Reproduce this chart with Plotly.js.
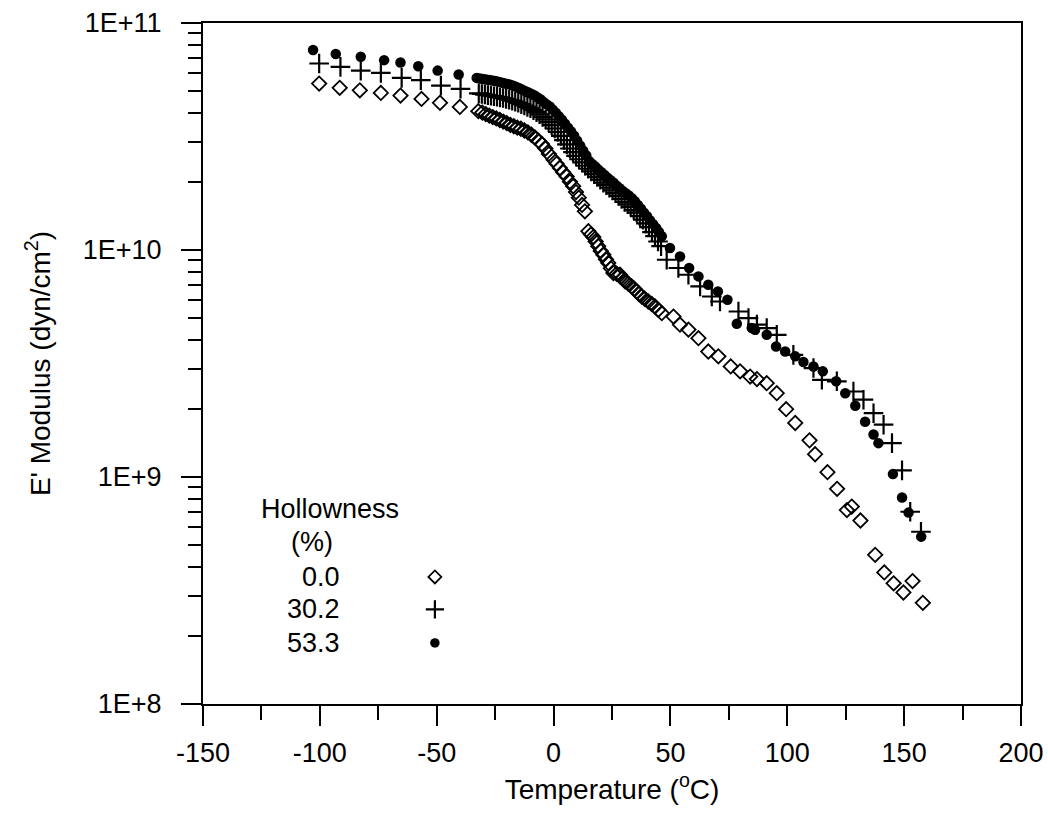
<!DOCTYPE html>
<html>
<head>
<meta charset="utf-8">
<script src="https://cdn.plot.ly/plotly-3.0.1.min.js"></script>
<style>html,body{margin:0;padding:0;background:#fff;}#chart{width:1048px;height:814px;}</style>
</head>
<body>
<div id="chart"></div>
<script>
// ---- data ----
const seriesNames = ['0.0', '30.2', '53.3'];
const legendTitle = 'Hollowness';
const legendUnit = '(%)';

// Hollowness 0.0 %
const temp00 = [-100.3,-91.5,-82.9,-73.9,-65.5,-56.5,-48.6,-40.1,-32.2,-30.5,-29,-27.5,-26,-24.5,-23,-21.5,-20,-18.5,-17,-15.5,-14,-12.5,-11,-9.5,-8,-6.5,-5,-3.5,-2,0,1.3,2.7,4.1,5.6,7,8.4,9.6,10.8,12.2,13.4,14.9,16,17,18,19.1,20.2,21.3,22.4,23.4,24.5,25.6,27,28.4,29.5,30.6,32,33.4,34.5,35.6,36.6,37.7,39,40.5,42,43.4,44.8,46.3,51.3,54.1,57.7,62.0,66.2,70.5,75.8,79.8,84.1,87.0,91.2,95.5,99.5,103.4,109.5,111.9,117.2,121.3,125.5,127.6,131.3,137.6,141.5,145.5,149.7,153.6,158.0];
const mod00 = [5.41e10,5.18e10,5.05e10,4.92e10,4.79e10,4.63e10,4.45e10,4.27e10,4.09e10,4.03e10,3.97e10,3.91e10,3.85e10,3.80e10,3.74e10,3.68e10,3.62e10,3.56e10,3.51e10,3.46e10,3.42e10,3.36e10,3.30e10,3.22e10,3.13e10,3.03e10,2.93e10,2.80e10,2.65e10,2.50e10,2.40e10,2.30e10,2.20e10,2.11e10,2.0e10,1.91e10,1.80e10,1.70e10,1.58e10,1.48e10,1.21e10,1.17e10,1.14e10,1.09e10,1.04e10,9.9e9,9.53e9,9.1e9,8.77e9,8.3e9,7.92e9,7.85e9,7.78e9,7.5e9,7.27e9,7.1e9,6.91e9,6.75e9,6.57e9,6.4e9,6.24e9,6.1e9,5.93e9,5.78e9,5.64e9,5.45e9,5.27e9,5.09e9,4.69e9,4.46e9,4.09e9,3.57e9,3.4e9,3.07e9,2.92e9,2.77e9,2.70e9,2.59e9,2.34e9,1.99e9,1.73e9,1.45e9,1.26e9,1.05e9,8.87e8,7.15e8,7.41e8,6.43e8,4.54e8,3.80e8,3.40e8,3.10e8,3.48e8,2.79e8];

// Hollowness 30.2 %
const temp30 = [-100.3,-91.2,-82.5,-73.9,-65.0,-56.8,-48.2,-39.8,-32.0,-30.7,-29.4,-28.1,-26.8,-25.5,-24.2,-22.9,-21.6,-20.3,-19.0,-17.7,-16.4,-15.1,-13.8,-12.5,-11.2,-9.9,-8.6,-7.3,-6.0,-4.7,-3.4,-2.1,-0.8,0.5,1.8,3.1,4.4,5.7,7.0,8.3,9.6,10.9,12.2,13.5,14.8,16.1,17.4,18.7,20.0,21.3,22.6,23.9,25.2,26.5,27.8,29.1,30.4,31.7,33.0,34.3,35.6,36.9,38.2,39.5,40.8,42.1,43.4,44.7,46.0,48.4,53.4,57.7,62.7,67.7,71.2,79.1,83.4,87.0,91.2,95.5,102.6,111.2,114.8,121.2,128.3,132.6,136.9,141.2,144.8,149.1,152.6,157.2];
const mod30 = [6.63e10,6.41e10,6.17e10,6.03e10,5.73e10,5.6e10,5.3e10,5.13e10,4.90e10,4.87e10,4.84e10,4.81e10,4.78e10,4.76e10,4.73e10,4.70e10,4.67e10,4.63e10,4.59e10,4.55e10,4.50e10,4.45e10,4.39e10,4.33e10,4.27e10,4.21e10,4.13e10,4.05e10,3.96e10,3.86e10,3.76e10,3.66e10,3.55e10,3.43e10,3.31e10,3.18e10,3.05e10,2.92e10,2.80e10,2.70e10,2.60e10,2.51e10,2.43e10,2.35e10,2.28e10,2.22e10,2.16e10,2.10e10,2.04e10,1.98e10,1.93e10,1.88e10,1.83e10,1.78e10,1.73e10,1.68e10,1.63e10,1.59e10,1.55e10,1.50e10,1.46e10,1.41e10,1.36e10,1.31e10,1.26e10,1.20e10,1.15e10,1.09e10,1.04e10,9.06e9,8.33e9,7.78e9,6.91e9,6.24e9,5.93e9,5.36e9,5.01e9,4.69e9,4.53e9,4.23e9,3.45e9,3.02e9,2.68e9,2.64e9,2.38e9,2.19e9,1.91e9,1.70e9,1.41e9,1.07e9,7.03e8,5.74e8];

// Hollowness 53.3 %
const temp53 = [-102.9,-93.2,-82.5,-72.5,-65.5,-57.9,-49.6,-40.6,-32.9,-31.5,-30.2,-28.9,-27.6,-26.3,-25.0,-23.7,-22.4,-21.1,-19.8,-18.5,-17.2,-15.9,-14.6,-13.3,-12.0,-10.7,-9.4,-8.1,-6.8,-5.5,-4.2,-2.9,-1.6,-0.3,1.0,2.3,3.6,4.9,6.2,7.5,8.8,10.1,11.4,12.7,14.0,15.3,16.6,17.9,19.2,20.5,21.8,23.1,24.4,25.7,27.0,28.3,29.6,30.9,32.2,33.5,34.8,36.1,37.4,38.7,40.0,41.3,42.6,43.9,45.1,46.3,49.8,54.1,58.0,62.0,66.2,70.3,74.4,78.4,84.8,86.2,91.2,95.2,99.1,103.4,106.9,111.2,115.2,120.9,124.8,129.1,133.3,136.9,139.0,145.2,149.1,151.9,157.3];
const mod53 = [7.6e10,7.3e10,7.1e10,6.86e10,6.7e10,6.45e10,6.17e10,5.93e10,5.73e10,5.70e10,5.67e10,5.64e10,5.61e10,5.58e10,5.55e10,5.51e10,5.47e10,5.43e10,5.39e10,5.34e10,5.29e10,5.23e10,5.16e10,5.08e10,5.00e10,4.94e10,4.87e10,4.79e10,4.70e10,4.60e10,4.48e10,4.38e10,4.29e10,4.15e10,4.02e10,3.88e10,3.75e10,3.60e10,3.46e10,3.33e10,3.19e10,3.03e10,2.88e10,2.74e10,2.61e10,2.46e10,2.39e10,2.33e10,2.26e10,2.20e10,2.14e10,2.08e10,2.03e10,1.98e10,1.92e10,1.87e10,1.82e10,1.78e10,1.74e10,1.69e10,1.64e10,1.58e10,1.52e10,1.46e10,1.41e10,1.35e10,1.30e10,1.25e10,1.20e10,1.15e10,1.02e10,9.37e9,8.33e9,7.65e9,7.03e9,6.57e9,6.04e9,4.73e9,4.53e9,4.45e9,4.23e9,3.76e9,3.57e9,3.40e9,3.21e9,3.07e9,2.92e9,2.64e9,2.34e9,2.06e9,1.75e9,1.54e9,1.41e9,1.03e9,8.12e8,6.97e8,5.46e8];

// axis ticks
const xTickVals = [-150,-100,-50,0,50,100,150,200];
const xTickText = ['-150','-100','-50','0','50','100','150','200'];
const yTickVals = [1e8,1e9,1e10,1e11];
const yTickText = ['1E+8','1E+9','1E+10','1E+11'];

// ---- styling ----
const FONT = 'Liberation Sans, Arial, sans-serif';
const styles = [
  {symbol:'diamond-open', size:11, line:{color:'#000', width:1.8}, color:'#000'},
  {symbol:'cross-thin-open', size:14, line:{color:'#000', width:2.2}, color:'#000'},
  {symbol:'circle', size:10.5, line:{color:'#000', width:0}, color:'#000'}
];
const xs = [temp00, temp30, temp53];
const ys = [mod00, mod30, mod53];

const traces = xs.map((x,i)=>({
  type:'scatter', mode:'markers', x:x, y:ys[i], name:seriesNames[i],
  marker:styles[i], showlegend:false, cliponaxis:false
}));

// legend key markers on a hidden 0..1 overlay axis
const keyX = 0.2835;
const keyY = [0.1866, 0.139, 0.0896];
seriesNames.forEach((n,i)=>{
  traces.push({type:'scatter', mode:'markers', x:[keyX], y:[keyY[i]], xaxis:'x2', yaxis:'y2',
    marker:Object.assign({}, styles[i], {size: styles[i].size-1}), showlegend:false, hoverinfo:'skip'});
});

// minor log ticks
const yMinor = [];
for (let d=8; d<11; d++) for (let k=2;k<=9;k++) yMinor.push(k*Math.pow(10,d));

const annFont = {family:FONT, size:27, color:'#000'};
const annotations = [
  {xref:'paper', yref:'paper', x:0.155, y:0.2866, text:legendTitle, showarrow:false, xanchor:'center', yanchor:'middle', font:annFont},
  {xref:'paper', yref:'paper', x:0.133, y:0.238, text:legendUnit, showarrow:false, xanchor:'center', yanchor:'middle', font:annFont},
];
seriesNames.forEach((n,i)=>annotations.push({xref:'paper', yref:'paper', x:0.1697, y:keyY[i], text:n, showarrow:false, xanchor:'right', align:'right', yanchor:'middle', font:annFont}));

const layout = {
  width:1048, height:814,
  margin:{l:203, r:27, t:23, b:110},
  paper_bgcolor:'#fff', plot_bgcolor:'#fff',
  font:{family:FONT, size:27, color:'#000'},
  showlegend:false,
  xaxis:{
    range:[-150,200], tickvals:xTickVals, ticktext:xTickText, ticks:'outside', ticklen:20, tickwidth:2, tickcolor:'#000',
    showline:true, linewidth:2, linecolor:'#000', mirror:true, showgrid:false, zeroline:false,
    tickfont:{family:FONT, size:27, color:'#000'}, ticklabelstandoff:4,
    minor:{dtick:25, tick0:0, ticks:'outside', ticklen:14, tickwidth:2, tickcolor:'#000', showgrid:false},
    title:{text:'Temperature (<sup>o</sup>C)', font:{family:FONT, size:28, color:'#000'}, standoff:12}
  },
  yaxis:{
    type:'log', range:[8,11], tickvals:yTickVals, ticktext:yTickText, ticks:'outside', ticklen:20, tickwidth:2, tickcolor:'#000',
    showline:true, linewidth:2, linecolor:'#000', mirror:true, showgrid:false, zeroline:false,
    tickfont:{family:FONT, size:27, color:'#000'}, ticklabelstandoff:14,
    minor:{tickvals:yMinor, ticks:'outside', ticklen:13, tickwidth:2, tickcolor:'#000', showgrid:false},
    title:{text:"E' Modulus (dyn/cm<sup>2</sup>)", font:{family:FONT, size:28, color:'#000'}, standoff:24}
  },
  xaxis2:{overlaying:'x', range:[0,1], visible:false, anchor:'y2'},
  yaxis2:{overlaying:'y', range:[0,1], visible:false, anchor:'x2'},
  annotations:annotations
};

Plotly.newPlot('chart', traces, layout, {displayModeBar:false, staticPlot:true});
</script>
</body>
</html>
